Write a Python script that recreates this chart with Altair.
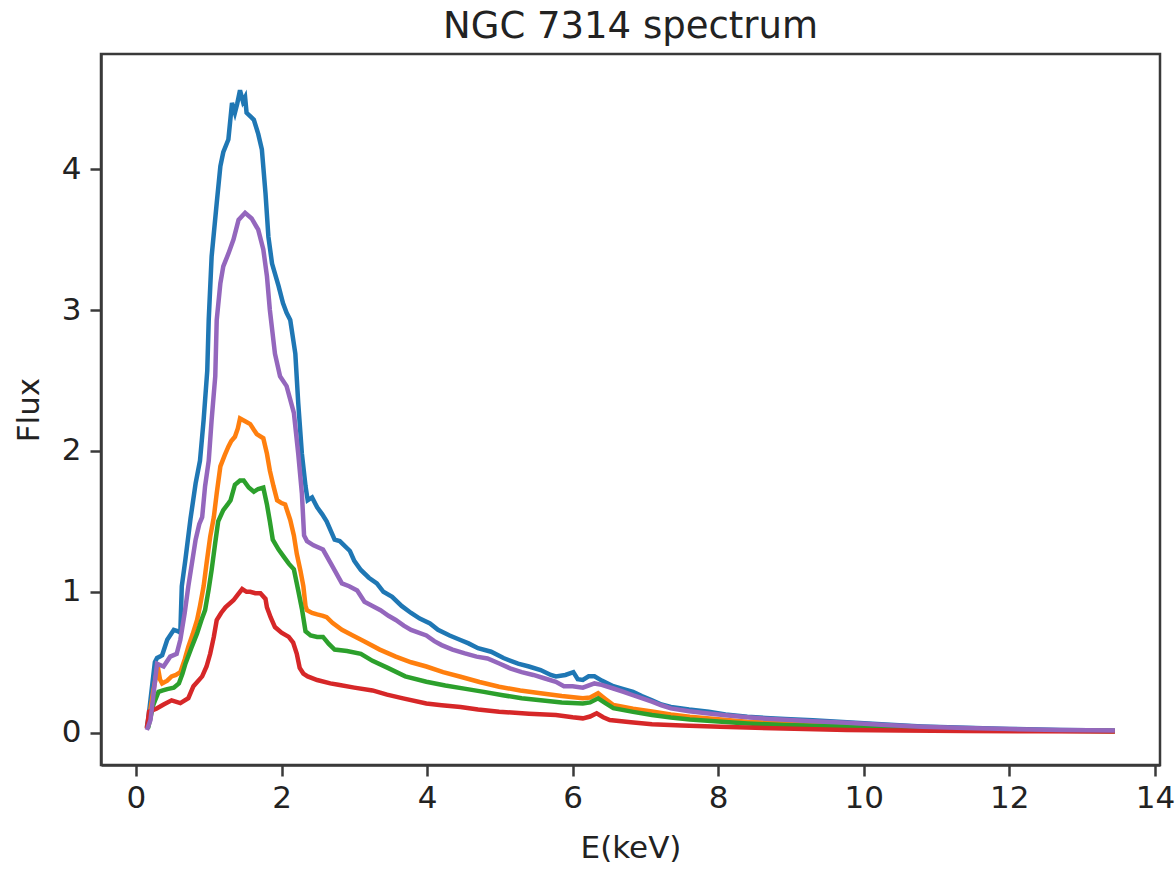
import altair as alt
import pandas as pd

TITLE = "NGC 7314 spectrum"
X_TITLE = "E(keV)"
Y_TITLE = "Flux"
X_TICKS = [0, 2, 4, 6, 8, 10, 12, 14]
Y_TICKS = [0, 1, 2, 3, 4]

blue_e = [0.15, 0.17, 0.26, 0.29, 0.33, 0.36, 0.43, 0.52, 0.58, 0.61, 0.63, 0.68, 0.75, 0.82, 0.88, 0.93, 0.98, 1.00, 1.04, 1.11, 1.16, 1.20, 1.27, 1.32, 1.36, 1.39, 1.43, 1.47, 1.50, 1.52, 1.58, 1.62, 1.68, 1.73, 1.78, 1.82, 1.87, 1.96, 2.02, 2.07, 2.12, 2.19, 2.23, 2.28, 2.33, 2.36, 2.42, 2.49, 2.56, 2.62, 2.73, 2.80, 2.94, 3.00, 3.09, 3.20, 3.31, 3.40, 3.52, 3.65, 3.78, 3.90, 4.04, 4.15, 4.31, 4.45, 4.57, 4.70, 4.88, 5.05, 5.25, 5.40, 5.56, 5.70, 5.77, 5.90, 6.01, 6.07, 6.14, 6.22, 6.30, 6.40, 6.56, 6.70, 6.83, 6.95, 7.09, 7.22, 7.35, 7.60, 7.87, 8.10, 8.40, 8.65, 8.92, 9.30, 9.77, 10.3, 10.8, 11.4, 12.0, 12.7, 13.45]
blue_f = [0.04, 0.10, 0.50, 0.53, 0.54, 0.55, 0.66, 0.73, 0.72, 0.71, 1.04, 1.23, 1.52, 1.77, 1.93, 2.22, 2.57, 2.93, 3.38, 3.76, 4.02, 4.12, 4.21, 4.47, 4.40, 4.46, 4.56, 4.48, 4.51, 4.40, 4.37, 4.35, 4.25, 4.14, 3.83, 3.52, 3.33, 3.17, 3.05, 2.98, 2.93, 2.69, 2.34, 1.98, 1.75, 1.65, 1.67, 1.60, 1.55, 1.50, 1.37, 1.36, 1.29, 1.22, 1.155, 1.10, 1.06, 1.00, 0.965, 0.90, 0.85, 0.81, 0.776, 0.73, 0.69, 0.66, 0.634, 0.60, 0.575, 0.53, 0.49, 0.47, 0.445, 0.41, 0.40, 0.41, 0.43, 0.38, 0.375, 0.40, 0.40, 0.37, 0.33, 0.31, 0.29, 0.26, 0.23, 0.20, 0.183, 0.165, 0.149, 0.13, 0.114, 0.105, 0.098, 0.088, 0.075, 0.058, 0.045, 0.035, 0.027, 0.020, 0.016]

orange_e = [0.15, 0.17, 0.24, 0.30, 0.33, 0.36, 0.43, 0.49, 0.55, 0.61, 0.67, 0.72, 0.78, 0.84, 0.88, 0.93, 0.97, 1.02, 1.07, 1.11, 1.16, 1.22, 1.27, 1.31, 1.36, 1.40, 1.43, 1.50, 1.57, 1.62, 1.66, 1.75, 1.80, 1.84, 1.89, 1.94, 2.00, 2.05, 2.12, 2.17, 2.21, 2.26, 2.30, 2.33, 2.35, 2.42, 2.49, 2.57, 2.62, 2.70, 2.83, 2.98, 3.14, 3.35, 3.57, 3.78, 3.99, 4.22, 4.46, 4.72, 4.99, 5.28, 5.56, 5.85, 6.14, 6.24, 6.35, 6.45, 6.56, 6.83, 7.09, 7.35, 7.61, 8.00, 8.40, 8.90, 9.30, 9.77, 10.3, 10.8, 11.4, 12.0, 12.7, 13.45]
orange_f = [0.03, 0.07, 0.30, 0.47, 0.38, 0.35, 0.37, 0.40, 0.41, 0.43, 0.52, 0.61, 0.70, 0.80, 0.90, 1.04, 1.20, 1.39, 1.53, 1.70, 1.89, 1.97, 2.03, 2.07, 2.10, 2.16, 2.23, 2.21, 2.19, 2.15, 2.12, 2.09, 1.98, 1.86, 1.75, 1.65, 1.63, 1.62, 1.51, 1.40, 1.27, 1.15, 1.04, 0.90, 0.87, 0.85, 0.84, 0.83, 0.82, 0.78, 0.73, 0.69, 0.647, 0.59, 0.54, 0.50, 0.47, 0.43, 0.397, 0.36, 0.326, 0.30, 0.28, 0.26, 0.244, 0.25, 0.28, 0.24, 0.197, 0.17, 0.15, 0.13, 0.114, 0.095, 0.078, 0.065, 0.055, 0.048, 0.038, 0.031, 0.025, 0.020, 0.015, 0.012]

green_e = [0.15, 0.17, 0.24, 0.31, 0.37, 0.43, 0.52, 0.59, 0.64, 0.68, 0.76, 0.84, 0.90, 0.95, 1.00, 1.04, 1.09, 1.13, 1.20, 1.26, 1.30, 1.36, 1.43, 1.48, 1.55, 1.62, 1.68, 1.75, 1.80, 1.84, 1.88, 1.96, 2.03, 2.10, 2.17, 2.23, 2.28, 2.33, 2.40, 2.49, 2.57, 2.65, 2.73, 2.90, 3.09, 3.25, 3.46, 3.70, 3.99, 4.25, 4.51, 4.78, 5.04, 5.30, 5.56, 5.85, 6.14, 6.24, 6.35, 6.45, 6.56, 6.83, 7.09, 7.35, 7.61, 8.00, 8.40, 8.90, 9.30, 9.77, 10.3, 10.8, 11.4, 12.0, 12.7, 13.45]
green_f = [0.03, 0.04, 0.20, 0.29, 0.30, 0.31, 0.32, 0.35, 0.42, 0.49, 0.60, 0.705, 0.80, 0.87, 1.02, 1.155, 1.35, 1.50, 1.58, 1.62, 1.65, 1.76, 1.79, 1.79, 1.74, 1.71, 1.73, 1.74, 1.62, 1.50, 1.37, 1.30, 1.25, 1.20, 1.16, 1.01, 0.88, 0.72, 0.69, 0.68, 0.68, 0.63, 0.59, 0.58, 0.56, 0.51, 0.46, 0.40, 0.362, 0.335, 0.313, 0.29, 0.266, 0.245, 0.23, 0.215, 0.207, 0.215, 0.244, 0.21, 0.174, 0.148, 0.126, 0.108, 0.094, 0.079, 0.066, 0.055, 0.050, 0.045, 0.035, 0.028, 0.022, 0.018, 0.014, 0.011]

red_e = [0.15, 0.18, 0.28, 0.38, 0.49, 0.61, 0.72, 0.79, 0.91, 0.97, 1.02, 1.07, 1.11, 1.17, 1.23, 1.34, 1.40, 1.46, 1.52, 1.57, 1.64, 1.71, 1.78, 1.80, 1.85, 1.91, 2.00, 2.10, 2.16, 2.21, 2.25, 2.30, 2.36, 2.49, 2.67, 2.78, 3.00, 3.25, 3.45, 3.67, 3.99, 4.20, 4.46, 4.70, 4.99, 5.40, 5.77, 6.00, 6.14, 6.24, 6.33, 6.42, 6.51, 6.80, 7.09, 7.50, 8.03, 8.90, 9.77, 10.5, 11.4, 12.4, 13.45]
red_f = [0.03, 0.15, 0.17, 0.20, 0.23, 0.21, 0.245, 0.33, 0.40, 0.47, 0.56, 0.68, 0.80, 0.85, 0.89, 0.94, 0.98, 1.02, 1.00, 1.00, 0.99, 0.99, 0.95, 0.89, 0.82, 0.75, 0.71, 0.68, 0.64, 0.56, 0.46, 0.42, 0.40, 0.374, 0.35, 0.34, 0.32, 0.30, 0.27, 0.244, 0.207, 0.195, 0.183, 0.165, 0.149, 0.135, 0.126, 0.11, 0.102, 0.115, 0.138, 0.11, 0.09, 0.075, 0.061, 0.052, 0.043, 0.030, 0.020, 0.016, 0.012, 0.010, 0.008]

purple_e = [0.15, 0.20, 0.29, 0.38, 0.47, 0.56, 0.61, 0.67, 0.72, 0.82, 0.87, 0.91, 0.95, 1.00, 1.04, 1.09, 1.11, 1.16, 1.20, 1.27, 1.34, 1.41, 1.50, 1.59, 1.68, 1.75, 1.80, 1.84, 1.91, 1.98, 2.07, 2.17, 2.23, 2.28, 2.31, 2.35, 2.44, 2.57, 2.70, 2.83, 2.93, 3.04, 3.14, 3.25, 3.36, 3.47, 3.57, 3.68, 3.78, 3.99, 4.10, 4.20, 4.35, 4.52, 4.68, 4.83, 5.00, 5.14, 5.30, 5.46, 5.62, 5.77, 5.88, 6.00, 6.14, 6.30, 6.40, 6.56, 6.70, 6.83, 6.95, 7.09, 7.22, 7.35, 7.60, 7.87, 8.10, 8.40, 8.65, 8.92, 9.30, 9.77, 10.3, 10.8, 11.4, 12.0, 12.7, 13.45]
purple_f = [0.02, 0.09, 0.49, 0.47, 0.54, 0.56, 0.66, 0.85, 1.04, 1.37, 1.48, 1.53, 1.75, 1.93, 2.22, 2.53, 2.93, 3.19, 3.31, 3.40, 3.50, 3.64, 3.69, 3.65, 3.57, 3.43, 3.24, 3.00, 2.69, 2.53, 2.46, 2.27, 1.98, 1.70, 1.40, 1.36, 1.33, 1.30, 1.18, 1.06, 1.04, 1.01, 0.93, 0.90, 0.87, 0.83, 0.80, 0.76, 0.73, 0.69, 0.65, 0.622, 0.59, 0.563, 0.54, 0.527, 0.49, 0.457, 0.43, 0.41, 0.385, 0.362, 0.33, 0.33, 0.32, 0.35, 0.34, 0.314, 0.29, 0.266, 0.245, 0.22, 0.195, 0.173, 0.152, 0.136, 0.124, 0.11, 0.10, 0.092, 0.082, 0.070, 0.055, 0.043, 0.033, 0.026, 0.019, 0.015]

SERIES = [
    ("blue", blue_e, blue_f, "#1f77b4"),
    ("orange", orange_e, orange_f, "#ff7f0e"),
    ("green", green_e, green_f, "#2ca02c"),
    ("red", red_e, red_f, "#d62728"),
    ("purple", purple_e, purple_f, "#9467bd"),
]

FONT = "DejaVu Sans"
AX_COLOR = "#3a3a3a"

x_enc = alt.X(
    "E:Q",
    scale=alt.Scale(domain=[-0.48, 14.07], nice=False, zero=False),
    axis=alt.Axis(values=X_TICKS, title=X_TITLE, grid=False, format="d",
                  tickSize=11, tickWidth=2.5, tickColor=AX_COLOR,
                  domainColor=AX_COLOR, domainWidth=2.5,
                  labelFont=FONT, labelFontSize=31, labelColor="#222",
                  labelPadding=7, titleFont=FONT, titleFontSize=31,
                  titleFontWeight="normal", titleColor="#222", titlePadding=20),
)
y_enc = alt.Y(
    "F:Q",
    scale=alt.Scale(domain=[-0.229, 4.817], nice=False, zero=False),
    axis=alt.Axis(values=Y_TICKS, title=Y_TITLE, grid=False, format="d",
                  tickSize=11, tickWidth=2.5, tickColor=AX_COLOR,
                  domainColor=AX_COLOR, domainWidth=2.5,
                  labelFont=FONT, labelFontSize=31, labelColor="#222",
                  labelPadding=9, titleFont=FONT, titleFontSize=31,
                  titleFontWeight="normal", titleColor="#222", titlePadding=16),
)

layers = []
for name, es, fs, col in SERIES:
    df = pd.DataFrame({"E": es, "F": fs, "series": name})
    layers.append(
        alt.Chart(df).mark_line(color=col, strokeWidth=4.5, clip=True).encode(
            x=x_enc, y=y_enc, order=alt.Order("E:Q")
        )
    )

chart = alt.layer(*layers).properties(
    width=1059,
    height=711,
    title=alt.TitleParams(TITLE, font=FONT, fontSize=37, fontWeight="normal",
                          color="#222", anchor="middle", offset=8),
    autosize=alt.AutoSizeParams(type="none"),
    padding={"left": 101, "top": 54, "right": 16, "bottom": 105},
    view=alt.ViewBackground(stroke=AX_COLOR, strokeWidth=2.5, fill="white"),
).configure(background="white")

chart.save("out.html", embed_options={"renderer": "svg", "actions": False})
